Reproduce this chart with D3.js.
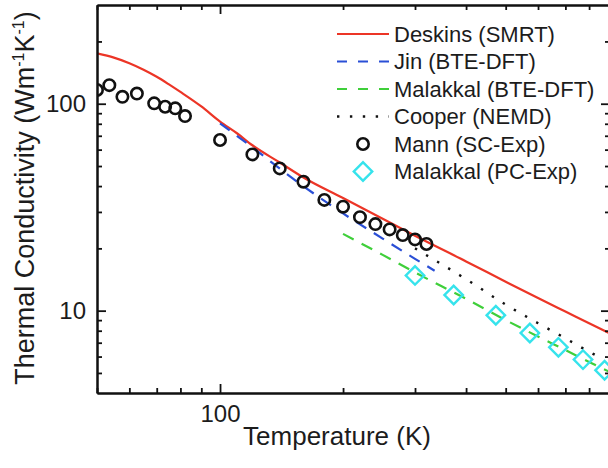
<!DOCTYPE html>
<html><head><meta charset="utf-8">
<script src="https://cdn.jsdelivr.net/npm/d3@7"></script>
<style>
body{margin:0;background:#fff}
svg{display:block}
text{font-family:"Liberation Sans",Arial,sans-serif;fill:#1c1c1c}
</style>
</head><body>
<svg id="c" width="608" height="468"></svg>
<script>
// ---- data ----
const deskinsT = [50, 55, 60, 65, 70, 75, 80, 90, 100, 110, 120, 140, 160, 200, 250, 300, 400, 500, 600, 700, 800, 900];
const deskinsK = [175, 167, 157, 146, 135, 124, 114, 97, 82, 72, 63, 52, 44, 35, 27.8, 23, 17.3, 13.8, 11.5, 9.9, 8.7, 7.75];

const jinT = [100, 120, 150, 200, 250, 300, 335];
const jinK = [80.4, 61.5, 43.8, 29.5, 22.3, 17.8, 15.6];

const malDftT = [200, 250, 300, 400, 500, 600, 700, 800, 900];
const malDftK = [23.5, 18.6, 15.3, 11.4, 9.0, 7.5, 6.45, 5.65, 5.05];

const cooperT = [300, 400, 500, 600, 700, 800, 850];
const cooperK = [20.0, 14.2, 10.7, 8.7, 7.35, 6.33, 5.95];

const mannT = [50, 53.6, 57.7, 62.6, 69, 73.4, 77.7, 82.1, 100, 120, 140, 160, 180, 200, 220, 240, 260, 280, 300, 320];
const mannK = [116.5, 123, 108, 112, 100.4, 96.7, 95, 87.2, 66.8, 56.9, 48.7, 42.0, 34.3, 31.8, 28.3, 26.2, 24.7, 23.2, 22.1, 21.0];

const malPcT = [300, 373, 473, 573, 673, 773, 873];
const malPcK = [14.8, 11.9, 9.5, 7.8, 6.65, 5.8, 5.15];

const xMajor = [100];
const xMinor = [50, 60, 70, 80, 90, 200, 300, 400, 500, 600, 700, 800, 900];
const yMajor = [10, 100];
const yMinor = [5, 6, 7, 8, 9, 20, 30, 40, 50, 60, 70, 80, 90, 200];

const legendLabels = ["Deskins (SMRT)", "Jin (BTE-DFT)", "Malakkal (BTE-DFT)", "Cooper (NEMD)", "Mann (SC-Exp)", "Malakkal (PC-Exp)"];

// ---- layout ----
const L = 97, R = 610, T = 5, B = 393;
const svg = d3.select("#c");
const x = d3.scaleLog().domain([50, 900]).range([L, R]);
const y = d3.scaleLog().domain([4, 300]).range([B, T]);

const styles = {
  deskins: {stroke: "#ec3526", dash: null, width: 2.2},
  jin: {stroke: "#2a4fd6", dash: "12,9", width: 2.2},
  mal: {stroke: "#3fcf3a", dash: "12,9", width: 2.2},
  cooper: {stroke: "#111", dash: "2.4,10.5", width: 2.4}
};

svg.append("defs").append("clipPath").attr("id", "clip")
  .append("rect").attr("x", L).attr("y", T).attr("width", R - L).attr("height", B - T);

const plot = svg.append("g").attr("clip-path", "url(#clip)");
const line = d3.line().x(d => x(d[0])).y(d => y(d[1])).curve(d3.curveMonotoneX);

function drawLine(ts, ks, st) {
  plot.append("path").datum(d3.zip(ts, ks))
    .attr("d", line).attr("fill", "none")
    .attr("stroke", st.stroke).attr("stroke-width", st.width)
    .attr("stroke-dasharray", st.dash);
}
drawLine(deskinsT, deskinsK, styles.deskins);
drawLine(jinT, jinK, styles.jin);
drawLine(malDftT, malDftK, styles.mal);
drawLine(cooperT, cooperK, styles.cooper);

const diamond = d3.symbol().type(d3.symbolSquare).size(170);
plot.selectAll(".dia").data(d3.zip(malPcT, malPcK)).join("path")
  .attr("d", diamond)
  .attr("transform", d => `translate(${x(d[0])},${y(d[1])}) rotate(45)`)
  .attr("fill", "none").attr("stroke", "#36e3ec").attr("stroke-width", 2.4);

plot.selectAll(".mann").data(d3.zip(mannT, mannK)).join("circle")
  .attr("cx", d => x(d[0])).attr("cy", d => y(d[1])).attr("r", 5.7)
  .attr("fill", "none").attr("stroke", "#111").attr("stroke-width", 2.6);

// ---- axes ----
function styleAxis(g) {
  g.selectAll("line").attr("stroke", "#111").attr("stroke-width", 1.8);
  g.selectAll("path.domain").attr("stroke", "#111").attr("stroke-width", 2);
  g.selectAll("text").attr("font-size", 24).attr("fill", "#1c1c1c")
    .attr("font-family", '"Liberation Sans",Arial,sans-serif');
}
const fmt = d3.format("d");
// bottom
svg.append("g").attr("transform", `translate(0,${B})`)
  .call(d3.axisBottom(x).tickValues(xMinor).tickSize(-5).tickFormat("").tickSizeOuter(0)).call(styleAxis);
svg.append("g").attr("transform", `translate(0,${B})`)
  .call(d3.axisBottom(x).tickValues(xMajor).tickSize(-9).tickPadding(12).tickFormat(fmt).tickSizeOuter(0)).call(styleAxis);
// top
svg.append("g").attr("transform", `translate(0,${T})`)
  .call(d3.axisTop(x).tickValues(xMinor).tickSize(-5).tickFormat("").tickSizeOuter(0)).call(styleAxis);
svg.append("g").attr("transform", `translate(0,${T})`)
  .call(d3.axisTop(x).tickValues(xMajor).tickSize(-9).tickFormat("").tickSizeOuter(0)).call(styleAxis);
// left
svg.append("g").attr("transform", `translate(${L},0)`)
  .call(d3.axisLeft(y).tickValues(yMinor).tickSize(-5).tickFormat("").tickSizeOuter(0)).call(styleAxis);
svg.append("g").attr("transform", `translate(${L},0)`)
  .call(d3.axisLeft(y).tickValues(yMajor).tickSize(-9).tickPadding(11).tickFormat(fmt).tickSizeOuter(0)).call(styleAxis);
// right
svg.append("g").attr("transform", `translate(${R},0)`)
  .call(d3.axisRight(y).tickValues(yMinor).tickSize(-5).tickFormat("").tickSizeOuter(0)).call(styleAxis);
svg.append("g").attr("transform", `translate(${R},0)`)
  .call(d3.axisRight(y).tickValues(yMajor).tickSize(-9).tickFormat("").tickSizeOuter(0)).call(styleAxis);

// ---- titles ----
svg.append("text").attr("x", 337).attr("y", 445).attr("text-anchor", "middle")
  .attr("font-size", 26).text("Temperature (K)");

const yt = svg.append("text").attr("transform", "translate(34,198) rotate(-90)")
  .attr("text-anchor", "middle").attr("font-size", 27);
yt.append("tspan").text("Thermal Conductivity (Wm");
yt.append("tspan").attr("dy", -10).attr("font-size", 16).text("-1");
yt.append("tspan").attr("dy", 10).text("K");
yt.append("tspan").attr("dy", -10).attr("font-size", 16).text("-1");
yt.append("tspan").attr("dy", 10).text(")");

// ---- legend ----
const lg = svg.append("g");
const lx0 = 337, lx1 = 389, tx = 394, ly0 = 34, step = 27.5;
const lineStyles = [styles.deskins, styles.jin, styles.mal, styles.cooper];
legendLabels.forEach((lab, i) => {
  const yy = ly0 + i * step;
  if (i < 4) {
    const st = lineStyles[i];
    lg.append("line").attr("x1", lx0).attr("x2", lx1).attr("y1", yy).attr("y2", yy)
      .attr("stroke", st.stroke).attr("stroke-width", st.width)
      .attr("stroke-dasharray", i === 1 || i === 2 ? "10,11" : (i === 3 ? "2.4,10.5" : null));
  } else if (i === 4) {
    lg.append("circle").attr("cx", 363).attr("cy", yy).attr("r", 5.7)
      .attr("fill", "none").attr("stroke", "#111").attr("stroke-width", 2.6);
  } else {
    lg.append("path").attr("d", diamond)
      .attr("transform", `translate(363,${yy}) rotate(45)`)
      .attr("fill", "none").attr("stroke", "#36e3ec").attr("stroke-width", 2.4);
  }
  lg.append("text").attr("x", tx).attr("y", yy).attr("dy", "0.36em")
    .attr("font-size", 22).text(lab);
});
</script>
</body></html>
